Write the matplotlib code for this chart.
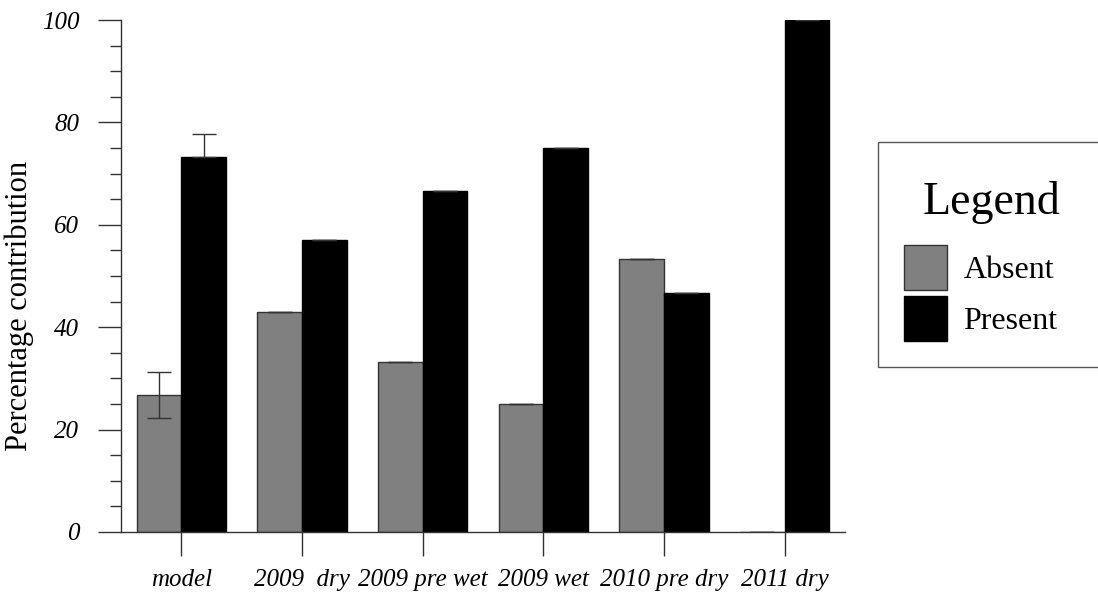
import numpy as np
import matplotlib
matplotlib.use('Agg')
import matplotlib.pyplot as plt
from matplotlib.ticker import MultipleLocator

plt.rcParams['font.family'] = ['Liberation Serif', 'DejaVu Serif']

# Percentage contribution per sampling period
periods = ['model', '2009  dry', '2009 pre wet', '2009 wet', '2010 pre dry', '2011 dry']
absent = [26.7, 42.9, 33.3, 25.0, 53.3, 0.0]
present = [73.3, 57.1, 66.7, 75.0, 46.7, 100.0]
absent_err = [4.5, 0, 0, 0, 0, 0]
present_err_up = [4.5, 0, 0, 0, 0, 0]
present_err_lo = [0, 0, 0, 0, 0, 0]

x = np.arange(len(periods))
width = 0.37

fig = plt.figure(figsize=(10.98, 5.94), dpi=100)
ax = fig.add_axes([0.1102, 0.1044, 0.6594, 0.8619])

err_kw = dict(ecolor='#333333', elinewidth=1, capsize=8.5, capthick=1)
ax.bar(x - width / 2, absent, width, color='#808080', edgecolor='#333333',
       linewidth=1, yerr=absent_err, error_kw=err_kw, label='Absent')
ax.bar(x + width / 2, present, width, color='black', edgecolor='black',
       linewidth=1, yerr=[present_err_lo, present_err_up], error_kw=err_kw,
       label='Present')

ax.set_xlim(-0.5, 5.5)
ax.set_ylim(0, 100)
ax.set_xticks(x)
ax.set_xticklabels(periods, fontsize=18, style='italic')
ax.set_yticks([0, 20, 40, 60, 80, 100])
ax.set_yticklabels(['0', '20', '40', '60', '80', '100'], fontsize=18, style='italic')
ax.yaxis.set_minor_locator(MultipleLocator(5))

ax.tick_params(axis='y', which='major', direction='out', length=16.5, width=1,
               color='#333333', pad=13.5)
ax.tick_params(axis='y', which='minor', direction='out', length=8, width=1,
               color='#333333')
ax.tick_params(axis='x', which='major', direction='out', length=17.3, width=1,
               color='#333333', pad=9)

for side in ['top', 'right']:
    ax.spines[side].set_visible(False)
for side in ['left', 'bottom']:
    ax.spines[side].set_linewidth(1)
    ax.spines[side].set_color('#333333')

ax.set_ylabel('Percentage contribution', fontsize=22, va='center')
ax.yaxis.set_label_coords(-0.141, 0.441)

leg = ax.legend(loc='upper left', bbox_to_anchor=(0.7996, 0.761, 0.206, 0.0),
                bbox_transform=fig.transFigure, mode='expand',
                title='\nLegend\n', title_fontsize=33, fontsize=23,
                fancybox=False, framealpha=1, edgecolor='#555555',
                handlelength=1.35, handleheight=1.79, handletextpad=0.53,
                labelspacing=0.2, borderpad=0.8, borderaxespad=0)
leg.get_title().set_linespacing(0.13)
leg.get_frame().set_linewidth(1)

plt.savefig('out.png', dpi=100)
